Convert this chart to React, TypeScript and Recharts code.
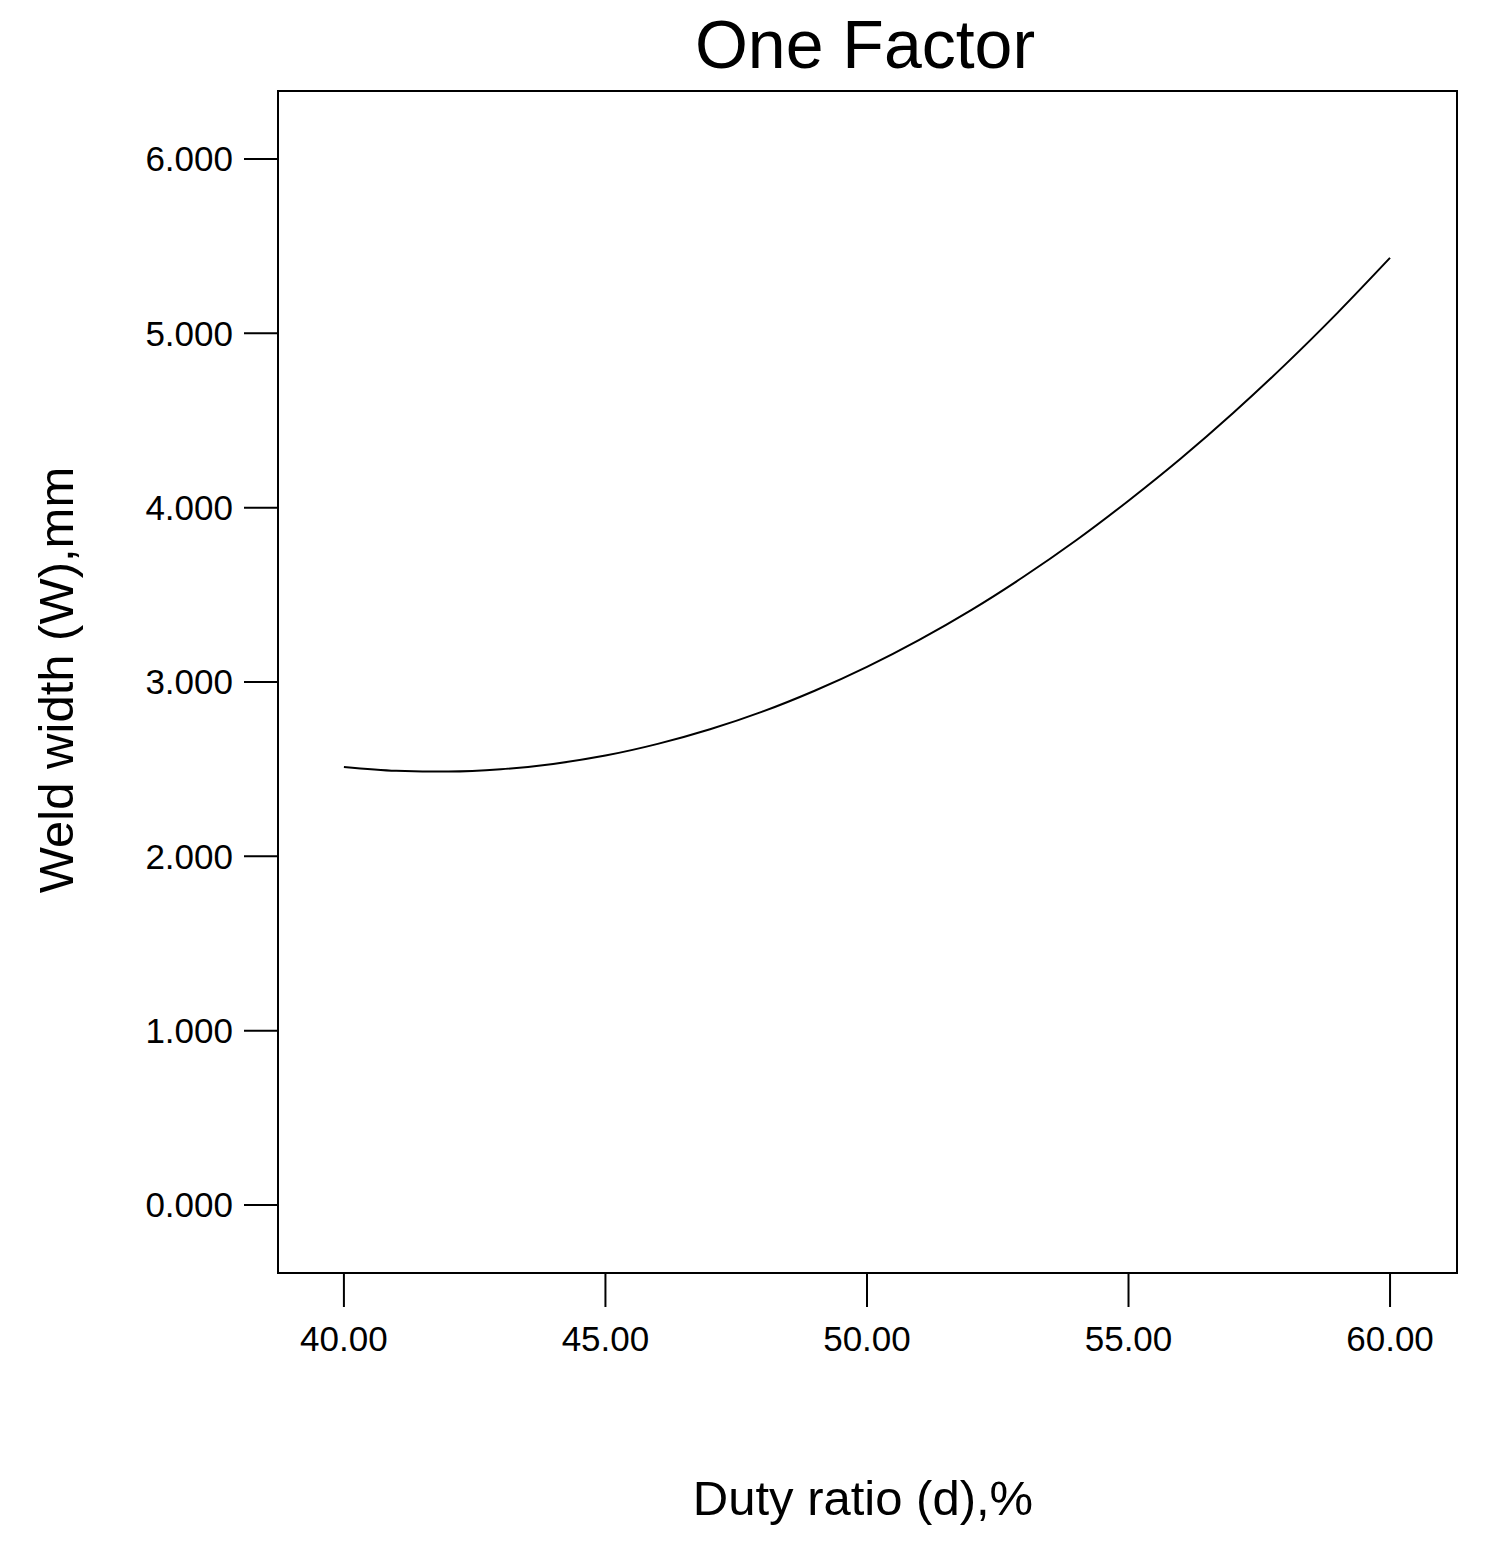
import React from 'react';
import { LineChart, Line, XAxis, YAxis, ReferenceArea } from 'recharts';

// duty ratio (%) and weld width (mm)
const dutyRatio = [40, 41, 42, 43, 44, 45, 46, 47, 48, 49, 50, 51, 52, 53, 54, 55, 56, 57, 58, 59, 60];
const weldWidth = [
  2.513, 2.491, 2.486, 2.499, 2.53, 2.578, 2.645, 2.729, 2.83, 2.95, 3.087,
  3.242, 3.414, 3.605, 3.813, 4.04, 4.282, 4.543, 4.822, 5.119, 5.433,
];
const xTicks = [40, 45, 50, 55, 60];
const yTicks = [0, 1, 2, 3, 4, 5, 6];

const xDomain: [number, number] = [38.74, 61.28];
const yDomain: [number, number] = [-0.39, 6.39];

const data = dutyRatio.map((d, i) => ({ d, w: weldWidth[i] }));

const font = '"Liberation Sans", Arial, sans-serif';

export default function App() {
  const tickStyle = { fill: '#000', fontSize: 35, fontFamily: font };

  return (
    <div style={{ position: 'absolute', left: 0, top: 0, width: 1490, height: 1555, background: '#fff' }}>
      <LineChart
        width={1490}
        height={1555}
        data={data}
        margin={{ top: 91, right: 33, left: 0, bottom: 0 }}
      >
        <XAxis
          dataKey="d"
          type="number"
          domain={xDomain}
          ticks={xTicks}
          tickFormatter={(v: number) => v.toFixed(2)}
          height={282}
          tickSize={34}
          tickMargin={19}
          tick={tickStyle}
          stroke="#000"
          strokeWidth={2}
          allowDataOverflow
        />
        <YAxis
          type="number"
          domain={yDomain}
          ticks={yTicks}
          tickFormatter={(v: number) => v.toFixed(3)}
          width={278}
          tickSize={34}
          tickMargin={11}
          tick={tickStyle}
          stroke="#000"
          strokeWidth={2}
          allowDataOverflow
        />
        <ReferenceArea
          x1={xDomain[0]}
          x2={xDomain[1]}
          y1={yDomain[0]}
          y2={yDomain[1]}
          fill="none"
          fillOpacity={0}
          stroke="#000"
          strokeWidth={2}
          ifOverflow="visible"
        />
        <Line
          type="monotone"
          dataKey="w"
          stroke="#000"
          strokeWidth={2}
          dot={false}
          isAnimationActive={false}
        />
      </LineChart>

      {/* titles drawn on top of the chart */}
      <svg
        width={1490}
        height={1555}
        style={{ position: 'absolute', left: 0, top: 0, pointerEvents: 'none' }}
      >
        <text x={865} y={68} textAnchor="middle" fontSize={68} fontFamily={font} fill="#000">
          One Factor
        </text>
        <text x={863} y={1515} textAnchor="middle" fontSize={49} fontFamily={font} fill="#000">
          Duty ratio (d),%
        </text>
        <text
          x={73}
          y={680}
          textAnchor="middle"
          fontSize={49}
          fontFamily={font}
          fill="#000"
          transform="rotate(-90, 73, 680)"
        >
          Weld width (W),mm
        </text>
      </svg>
    </div>
  );
}
